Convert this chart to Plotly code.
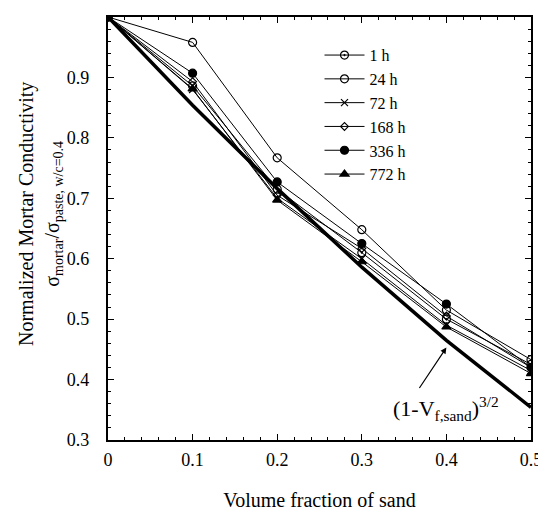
import plotly.graph_objects as go

vf = [0, 0.1, 0.2, 0.3, 0.4, 0.5]
labels = ["1 h", "24 h", "72 h", "168 h", "336 h", "772 h"]
s_1h = [1, 0.886, 0.715, 0.610, 0.500, 0.425]
s_24h = [1, 0.958, 0.767, 0.648, 0.515, 0.433]
s_72h = [1, 0.880, 0.700, 0.600, 0.490, 0.415]
s_168h = [1, 0.893, 0.705, 0.617, 0.505, 0.420]
s_336h = [1, 0.907, 0.727, 0.625, 0.525, 0.420]
s_772h = [1, 0.881, 0.697, 0.595, 0.487, 0.410]
theory = [1, 0.854, 0.716, 0.586, 0.465, 0.354]

x_ticks = [0, 0.1, 0.2, 0.3, 0.4, 0.5]
x_ticktext = ["0", "0.1", "0.2", "0.3", "0.4", "0.5"]
y_ticks = [0.3, 0.4, 0.5, 0.6, 0.7, 0.8, 0.9, 1.0]
y_ticktext = ["0.3", "0.4", "0.5", "0.6", "0.7", "0.8", "0.9", "1"]

series = [s_1h, s_24h, s_72h, s_168h, s_336h, s_772h]
symbols = ["circle-open-dot", "circle-open", "x-thin-open", "diamond-open", "circle", "triangle-up"]
sizes = [8, 8, 7, 6, 8, 8]

font = "Liberation Serif, Times New Roman, serif"
pad = "\u00a0\u00a0\u00a0"
fig = go.Figure()
for lab, ys, sym, sz in zip(labels, series, symbols, sizes):
    fig.add_trace(go.Scatter(
        x=vf, y=ys, name=lab, mode="lines+markers",
        line=dict(color="black", width=1),
        marker=dict(symbol=sym, size=sz, color="black",
                    line=dict(color="black", width=1.2)),
    ))
fig.add_trace(go.Scatter(x=vf, y=theory, mode="lines", showlegend=False,
                         line=dict(color="black", width=3.5)))

fig.add_annotation(x=0.40, y=0.453, ax=-28, ay=42, text="", showarrow=True,
                   arrowhead=2, arrowsize=1, arrowwidth=1.2, arrowcolor="black")
fig.add_annotation(x=0.400, y=0.352, text="(1-V<sub>f,sand</sub>)<sup>3/2</sup>",
                   showarrow=False, font=dict(family=font, size=22, color="black"))
fig.add_annotation(xref="paper", yref="paper", x=-0.16, y=0.535, textangle=-90,
                   xanchor="center", yanchor="middle",
                   text="Normalized Mortar Conductivity<br>σ<sub>mortar</sub>/σ<sub>paste, w/c=0.4</sub>",
                   showarrow=False, font=dict(family=font, size=20, color="black"))

axis_common = dict(showgrid=False, zeroline=False, showline=True, linecolor="black",
                   linewidth=1.5, mirror="ticks", ticks="inside", ticklen=6,
                   tickcolor="black", automargin=False,
                   tickfont=dict(family=font, size=18, color="black"))
fig.update_xaxes(range=[0, 0.5], tickmode="array", tickvals=x_ticks, ticktext=x_ticktext,
                 ticklabelstandoff=3,
                 minor=dict(dtick=0.02, ticks="inside", ticklen=3, tickcolor="black"),
                 title=dict(text="Volume fraction of sand", font=dict(family=font, size=20, color="black"),
                            standoff=24),
                 **axis_common)
fig.update_yaxes(range=[0.3, 1], tickmode="array", tickvals=y_ticks,
                 ticktext=[t + pad for t in y_ticktext],
                 minor=dict(dtick=0.02, ticks="inside", ticklen=3, tickcolor="black"),
                 **axis_common)
fig.update_layout(
    width=546, height=517, plot_bgcolor="white", paper_bgcolor="white",
    margin=dict(l=100, r=23, t=9, b=85),
    font=dict(family=font, color="black"),
    legend=dict(x=0.50, y=0.95, xanchor="left", yanchor="top", bgcolor="rgba(0,0,0,0)",
                font=dict(family=font, size=16, color="black"), tracegroupgap=0,
                itemwidth=40),
)
fig.write_html("out.html")
